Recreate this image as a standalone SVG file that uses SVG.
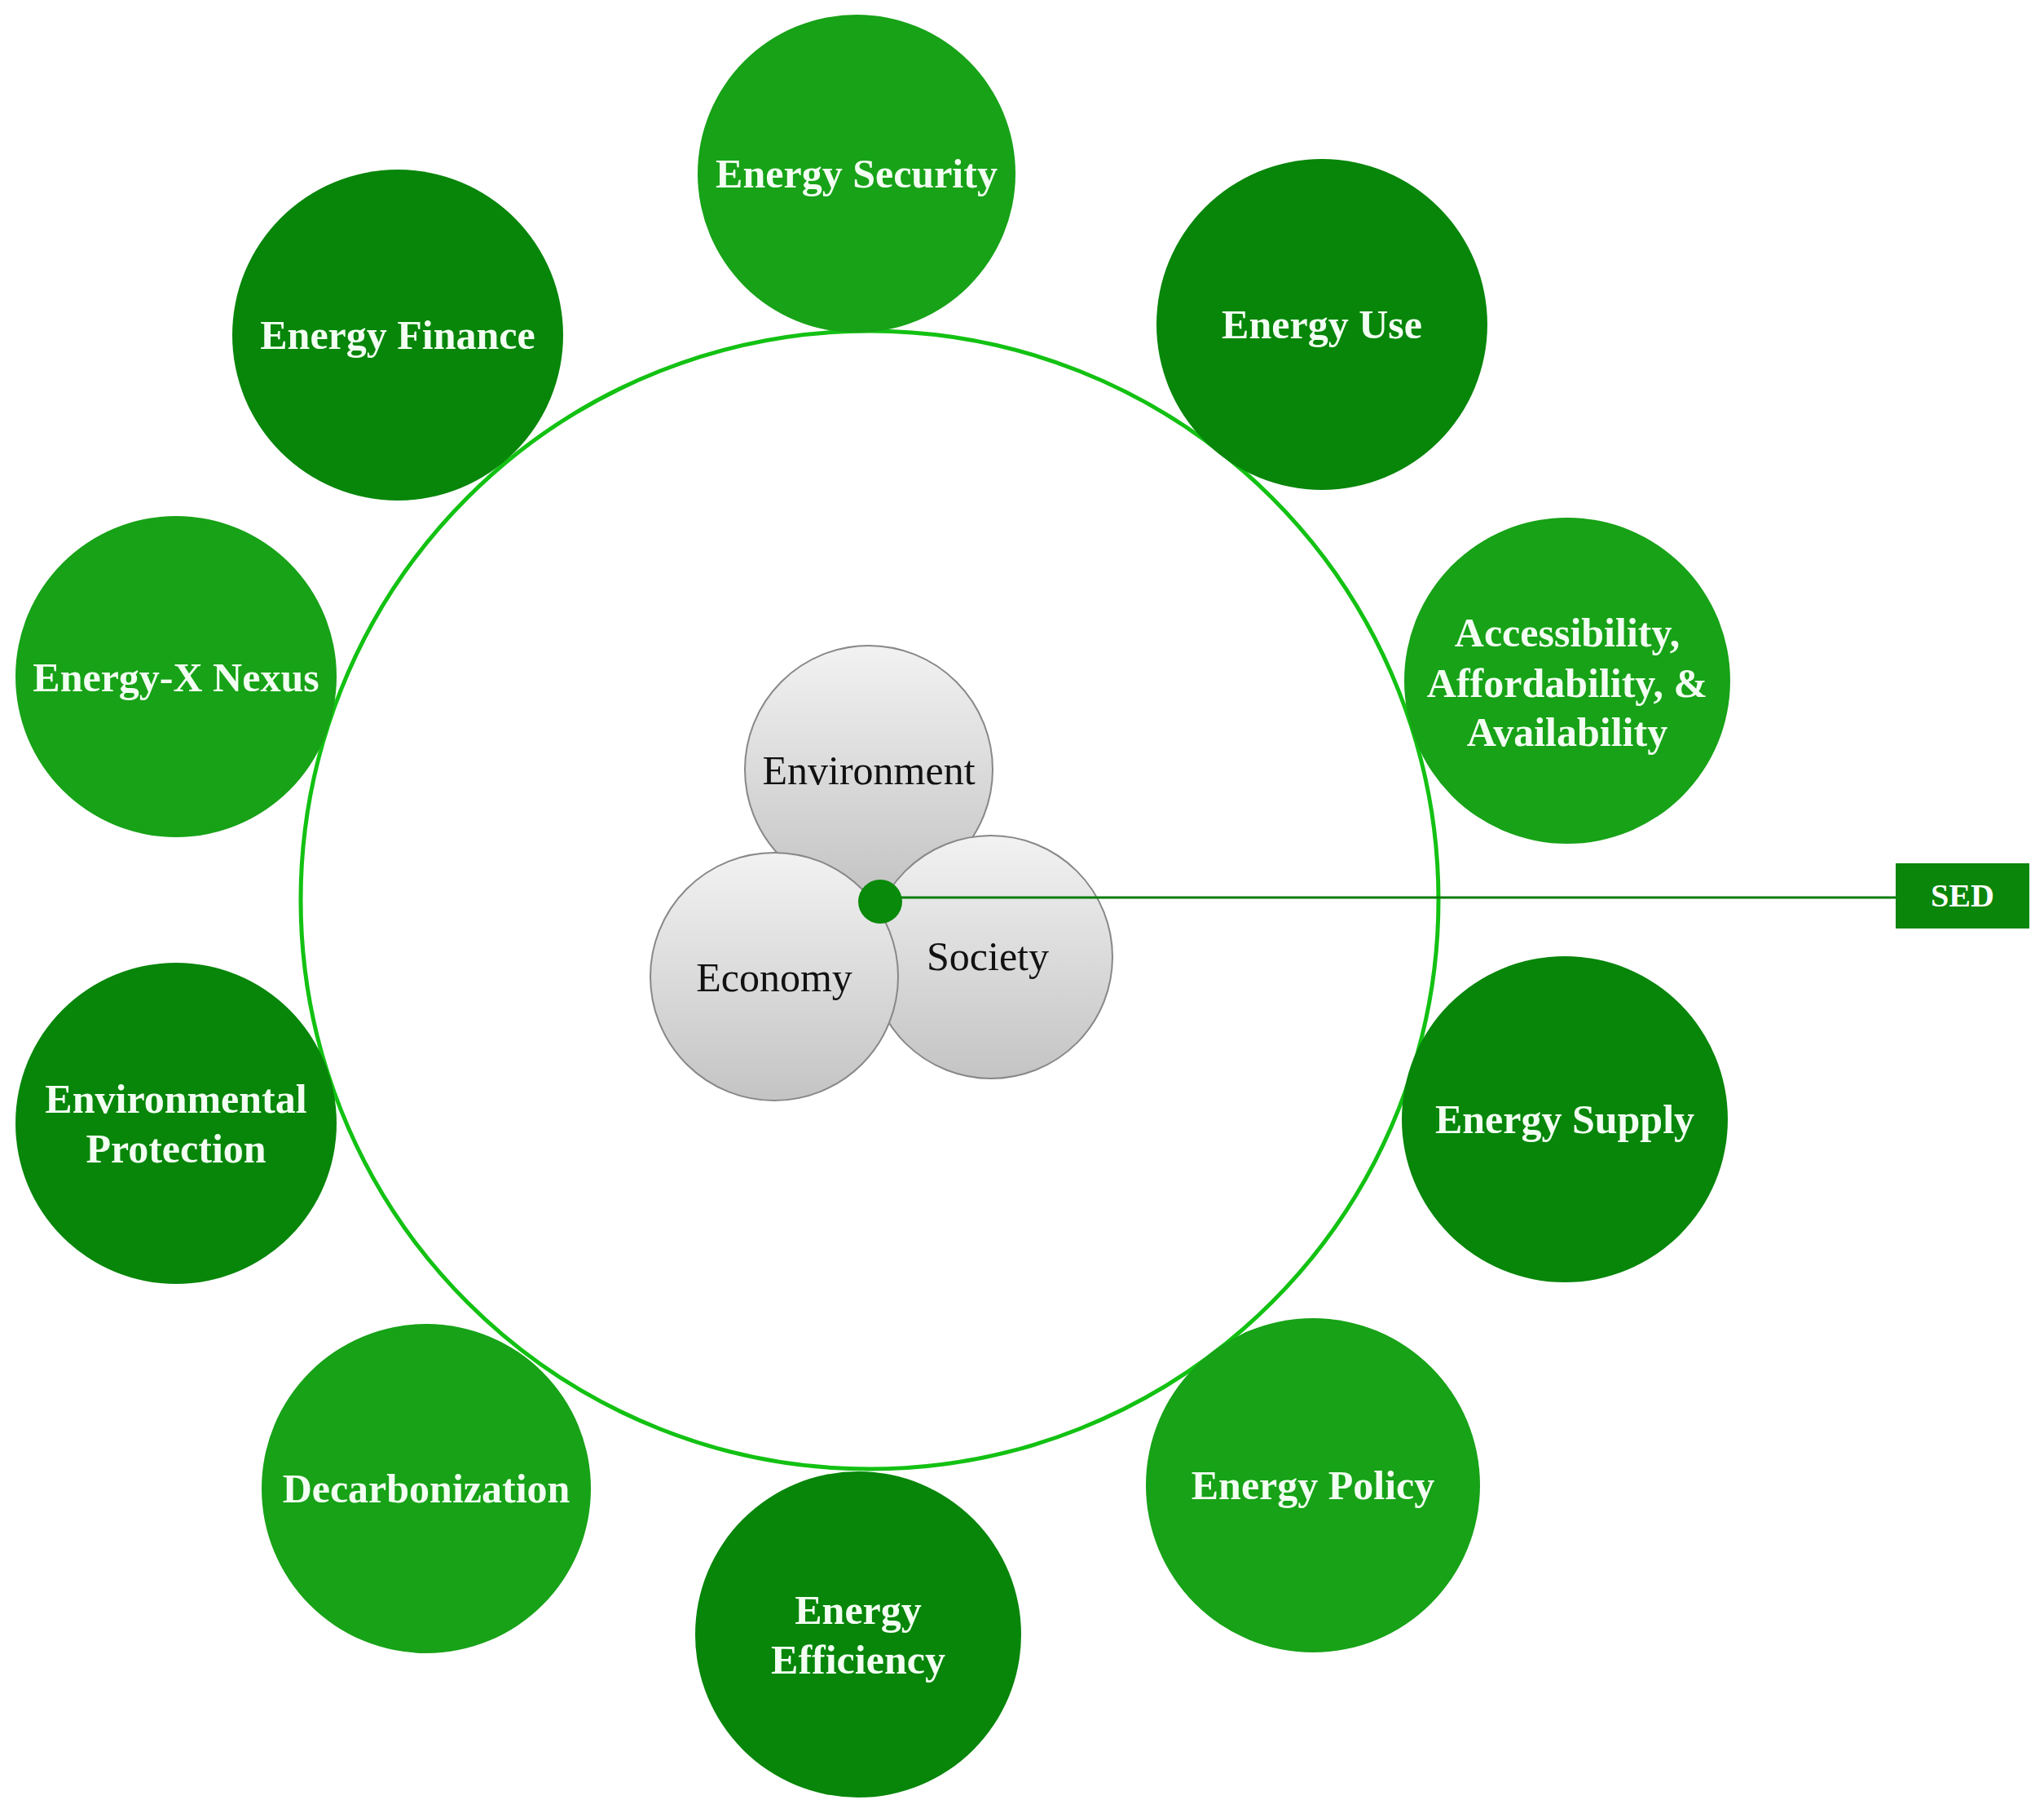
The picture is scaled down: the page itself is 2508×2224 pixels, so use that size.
<svg xmlns="http://www.w3.org/2000/svg" width="2508" height="2224" viewBox="0 0 2508 2224">
<defs>
<style>
.l{fill:#17a217}.d{fill:#07860a}
.t{font-family:"Liberation Serif","DejaVu Serif",serif;font-weight:bold;font-size:50px;fill:#f2fff2;text-anchor:middle}
.c{font-family:"Liberation Serif","DejaVu Serif",serif;font-size:50px;fill:#111;text-anchor:middle}
.g{fill:url(#gr);stroke:#888;stroke-width:2}
</style>
<linearGradient id="gr" x1="0" y1="0" x2="0" y2="1"><stop offset="0" stop-color="#f2f2f2"/><stop offset="1" stop-color="#c4c4c4"/></linearGradient>
</defs>
<rect width="2508" height="2224" fill="#fff"/>
<circle cx="1067" cy="1104" r="698" fill="none" stroke="#13c113" stroke-width="5"/>
<g id="n1"><circle class="l" cx="1051" cy="213" r="195"/><text class="t" x="1051" y="230">Energy Security</text></g>
<g id="n2"><circle class="d" cx="1622" cy="398" r="203"/><text class="t" x="1622" y="415">Energy Use</text></g>
<g id="n3"><circle class="l" cx="1923" cy="835" r="200"/><text class="t" x="1923" y="793">Accessibility,</text><text class="t" x="1923" y="855">Affordability, &amp;</text><text class="t" x="1923" y="915">Availability</text></g>
<g id="n4"><circle class="d" cx="1920" cy="1373" r="200"/><text class="t" x="1920" y="1390">Energy Supply</text></g>
<g id="n5"><circle class="l" cx="1611" cy="1822" r="205"/><text class="t" x="1611" y="1839">Energy Policy</text></g>
<g id="n6"><circle class="d" cx="1053" cy="2005" r="200"/><text class="t" x="1053" y="1992">Energy</text><text class="t" x="1053" y="2053">Efficiency</text></g>
<g id="n7"><circle class="l" cx="523" cy="1826" r="202"/><text class="t" x="523" y="1843">Decarbonization</text></g>
<g id="n8"><circle class="d" cx="216" cy="1378" r="197"/><text class="t" x="216" y="1365">Environmental</text><text class="t" x="216" y="1426">Protection</text></g>
<g id="n9"><circle class="l" cx="216" cy="830" r="197"/><text class="t" x="216" y="848">Energy-X Nexus</text></g>
<g id="n10"><circle class="d" cx="488" cy="411" r="203"/><text class="t" x="488" y="428">Energy Finance</text></g>
<g id="env"><circle class="g" cx="1066" cy="944" r="152"/><text class="c" x="1066" y="962">Environment</text></g>
<g id="soc"><circle class="g" cx="1216" cy="1174" r="149"/><text class="c" x="1212" y="1190">Society</text></g>
<g id="eco"><circle class="g" cx="950" cy="1198" r="152"/><text class="c" x="950" y="1216">Economy</text></g>
<g id="connectors"><line x1="1080" y1="1101" x2="2326" y2="1101" stroke="#0a7d0a" stroke-width="3"/><circle cx="1080" cy="1106" r="27" fill="#0a8a0a"/></g>
<g id="sed"><rect x="2326" y="1059" width="164" height="80" fill="#0a860a"/><text x="2408" y="1112" font-family="Liberation Serif,serif" font-weight="bold" font-size="40" fill="#fff" text-anchor="middle">SED</text></g>
</svg>
